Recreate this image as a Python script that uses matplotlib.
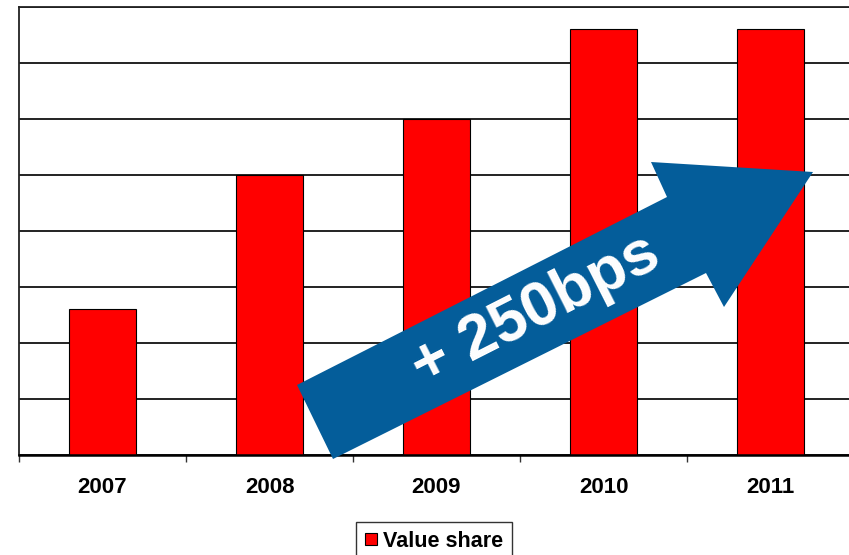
import matplotlib
matplotlib.use("Agg")
import matplotlib.pyplot as plt
from matplotlib.patches import Polygon
import numpy as np

# value share by year, in %
years = ["2007", "2008", "2009", "2010", "2011"]
share = [1.3, 2.5, 3.0, 3.8, 3.8]
arrow_label = "+ 250bps"

plt.rcParams['font.family'] = ['Liberation Sans', 'DejaVu Sans']

W, H = 849, 555
fig = plt.figure(figsize=(W / 100.0, H / 100.0), dpi=100)
ax = fig.add_axes([19.0 / W, 100.0 / H, 835.0 / W, 448.0 / H])

pos = np.arange(1, len(years) + 1)
ax.bar(pos, share, width=0.4, color='#ff0000', edgecolor='black',
       linewidth=0.8, zorder=3, label='Value share')

ax.set_xlim(0.5, len(years) + 0.5)
ax.set_ylim(0, 4)
ax.set_yticks(np.arange(0, 4.01, 0.5))
ax.yaxis.grid(True, color='#111111', linewidth=1.3, zorder=0)
ax.tick_params(axis='y', length=0, labelleft=False)

# boundary ticks below the axis, year labels centred between them
ax.set_xticks(np.arange(0.5, len(years) + 0.51, 1.0))
ax.set_xticklabels([])
ax.tick_params(axis='x', which='major', direction='out', length=5,
               width=1.0, color='#333333')
ax.set_xticks(pos, minor=True)
ax.set_xticklabels(years, minor=True, fontsize=16, fontweight='bold')
ax.tick_params(axis='x', which='minor', length=0, pad=15.5)

for s in ['left', 'top']:
    ax.spines[s].set_color('#222222')
    ax.spines[s].set_linewidth(1.3)
ax.spines['right'].set_visible(False)
ax.spines['bottom'].set_color('black')
ax.spines['bottom'].set_linewidth(1.8)
ax.spines['bottom'].set_zorder(4)

# blue growth arrow drawn over the bars (pixel coords, y measured from top)
arrow_px = [(297, 385), (667, 197), (651, 162), (813, 172),
            (724, 307), (706, 273), (333, 459)]
verts = [(x / W, 1 - y / H) for x, y in arrow_px]
fig.patches.append(Polygon(verts, closed=True, transform=fig.transFigure,
                           facecolor='#045d9a', edgecolor='none', zorder=5))
fig.text(536.0 / W, 1 - 311.0 / H, arrow_label, color='white', fontsize=45,
         fontweight='bold', rotation=26.9, rotation_mode='anchor',
         ha='center', va='center', zorder=6)

leg = fig.legend(loc='upper center', bbox_to_anchor=(434.0 / W, 1 - 522.0 / H),
                 frameon=True, fancybox=False, shadow=False,
                 prop={'size': 15.5, 'weight': 'bold'},
                 handlelength=0.55, handleheight=0.55, handletextpad=0.3,
                 borderpad=0.4, borderaxespad=0)
leg.get_frame().set_edgecolor('black')
leg.get_frame().set_linewidth(1.0)

fig.savefig('out.png', dpi=100)
